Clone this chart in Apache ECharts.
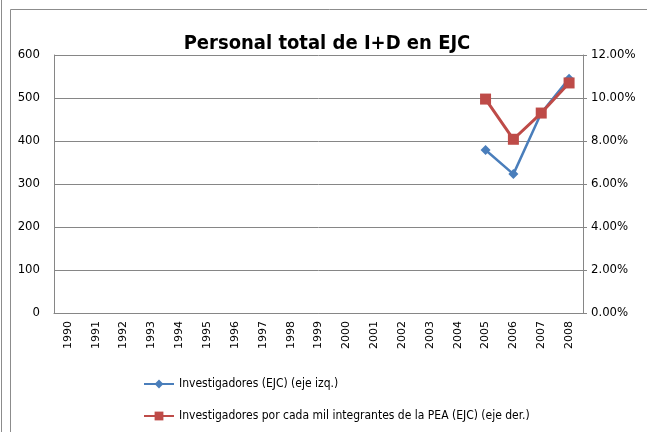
<!DOCTYPE html>
<html>
<head>
<meta charset="utf-8">
<script src="https://cdn.jsdelivr.net/npm/echarts@6/dist/echarts.min.js"></script>
<style>
  html, body { margin: 0; padding: 0; background: #fff; }
  #container { width: 647px; height: 432px; }
</style>
</head>
<body>
<div id="container"></div>
<script>
// datos
var years = ['1990','1991','1992','1993','1994','1995','1996','1997','1998','1999',
             '2000','2001','2002','2003','2004','2005','2006','2007','2008'];
var investigadores = [null,null,null,null,null,null,null,null,null,null,
                      null,null,null,null,null,379,323,465,545];
var porMil = [null,null,null,null,null,null,null,null,null,null,
              null,null,null,null,null,9.95,8.08,9.3,10.7];

var fuente = "'Liberation Sans Narrow', 'DejaVu Sans Condensed', sans-serif";

var chart = echarts.init(document.getElementById('container'));
var option = {
    animation: false,
    textStyle: { fontFamily: fuente, color: '#000' },
    title: {
        text: 'Personal total de I+D en EJC',
        left: 322,
        top: 29,
        textAlign: 'center',
        textStyle: { fontSize: 20, fontWeight: 'bold', color: '#000', fontFamily: fuente }
    },
    graphic: [
        { type: 'rect', shape: { x: 10.5, y: 9.5, width: 640, height: 430 },
          style: { fill: 'none', stroke: '#8c8c8c', lineWidth: 1 } },
        { type: 'line', shape: { x1: 1.5, y1: 0, x2: 1.5, y2: 432 },
          style: { stroke: '#8c8c8c', lineWidth: 1 } }
    ],
    legend: {
        orient: 'vertical',
        left: 138,
        top: 373,
        itemGap: 20,
        itemWidth: 30,
        itemHeight: 11,
        textStyle: { fontSize: 12, color: '#000', fontFamily: fuente },
        data: ['Investigadores (EJC) (eje izq.)',
               'Investigadores por cada mil integrantes de la PEA (EJC) (eje der.)']
    },
    grid: { left: 54, right: 64, top: 55, bottom: 119 },
    xAxis: {
        type: 'category',
        data: years,
        boundaryGap: true,
        axisLine: { lineStyle: { color: '#868686', width: 1 } },
        axisTick: { show: false },
        axisLabel: { rotate: 90, fontSize: 11, color: '#000', margin: 8, fontFamily: 'DejaVu Sans' }
    },
    yAxis: [
        {
            type: 'value',
            min: 0, max: 600, interval: 100,
            axisLine: { show: true, lineStyle: { color: '#868686' } },
            axisTick: { show: false },
            axisLabel: { fontSize: 13, color: '#000', margin: 14 },
            splitLine: { lineStyle: { color: '#868686', width: 1 } }
        },
        {
            type: 'value',
            min: 0, max: 12, interval: 2,
            position: 'right',
            axisLine: { show: true, lineStyle: { color: '#868686' } },
            axisTick: { show: true, length: 4, lineStyle: { color: '#868686' } },
            axisLabel: { fontSize: 13, color: '#000', margin: 8,
                formatter: function (v) { return v.toFixed(2) + '%'; } },
            splitLine: { show: false }
        }
    ],
    series: [
        {
            name: 'Investigadores (EJC) (eje izq.)',
            type: 'line',
            yAxisIndex: 0,
            data: investigadores,
            symbol: 'diamond',
            symbolSize: 10,
            lineStyle: { color: '#4a7ebb', width: 2.5 },
            itemStyle: { color: '#4a7ebb' }
        },
        {
            name: 'Investigadores por cada mil integrantes de la PEA (EJC) (eje der.)',
            type: 'line',
            yAxisIndex: 1,
            data: porMil,
            symbol: 'rect',
            symbolSize: 11,
            lineStyle: { color: '#be4b48', width: 3 },
            itemStyle: { color: '#be4b48' }
        }
    ]
};
chart.setOption(option, true);
window.onresize = function () { chart.resize(); };
</script>
</body>
</html>
